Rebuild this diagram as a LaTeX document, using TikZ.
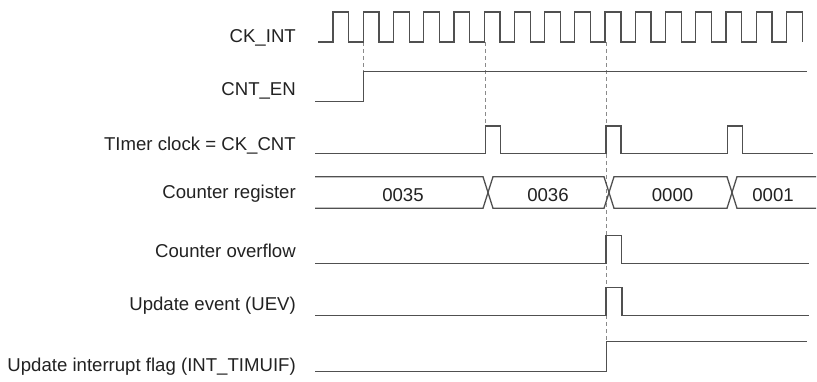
\documentclass[tikz,border=0pt]{standalone}
\usepackage{fontspec}
\setmainfont{Liberation Sans}
\definecolor{sigc}{HTML}{505050}
\definecolor{txtc}{HTML}{222222}
\definecolor{guidec}{HTML}{8A8A8A}
\begin{document}
\begin{tikzpicture}[x=1pt,y=-1pt,
  sig/.style={draw=sigc, line width=1.3pt, line join=miter},
  lbl/.style={anchor=base east, inner sep=0pt, text=txtc, font=\fontsize{18.6}{22}\selectfont},
  val/.style={anchor=base, inner sep=0pt, text=txtc, font=\fontsize{18.6}{22}\selectfont},
  guide/.style={draw=guidec, line width=1pt, dash pattern=on 4pt off 3pt}]
\fill[white] (0,0) rectangle (817,381);
\useasboundingbox (0,0) rectangle (817,381);

% labels
\node[lbl] (ckint) at (296,42) {CK\_INT};
\node[lbl] (cnten) at (296,95.8) {CNT\_EN};
\node[lbl] (tclk) at (296,150) {TImer clock = CK\_CNT};
\node[lbl] (creg) at (296,198.5) {Counter register};
\node[lbl] (covf) at (296,257.3) {Counter overflow};
\node[lbl] (uev) at (296,310) {Update event (UEV)};
\node[lbl] (uif) at (296,371.7) {Update interrupt flag (INT\_TIMUIF)};

% guide lines
\draw[guide] (363.5,42) -- (363.5,72);
\draw[guide] (485.5,42) -- (485.5,126);
\draw[guide] (606,42) -- (606,342);

% CK_INT
\draw[sig] (318,42) \foreach \k in {0,...,15} {
  -- ({333+30.23*\k},42) -- ({333+30.23*\k},12) -- ({348.8+30.23*\k},12) -- ({348.8+30.23*\k},42) };

% CNT_EN
\draw[sig] (315,101.7) -- (363.5,101.7) -- (363.5,71.7) -- (807,71.7);

% Timer clock
\draw[sig] (315,153.3) -- (485.5,153.3) -- (485.5,126) -- (500.5,126) -- (500.5,153.3)
  -- (606,153.3) -- (606,126) -- (621,126) -- (621,153.3)
  -- (727.5,153.3) -- (727.5,126) -- (742.3,126) -- (742.3,153.3) -- (813,153.3);

% Counter register bus
\draw[sig] (315,176.7) -- (483,176.7) -- (493,208.3) -- (604,208.3) -- (614,176.7) -- (727,176.7) -- (737,208.3) -- (816,208.3);
\draw[sig] (315,208.3) -- (483,208.3) -- (493,176.7) -- (604,176.7) -- (614,208.3) -- (727,208.3) -- (737,176.7) -- (816,176.7);
\node[val] (v35) at (403,201.5) {0035};
\node[val] (v36) at (548,201.5) {0036};
\node[val] (v00) at (672.5,201.5) {0000};
\node[val] (v01) at (773,201.5) {0001};

% Counter overflow
\draw[sig] (315,263.3) -- (606,263.3) -- (606,235.7) -- (621.7,235.7) -- (621.7,263.3) -- (809,263.3);
% Update event
\draw[sig] (315,315.7) -- (606,315.7) -- (606,287.7) -- (622,287.7) -- (622,315.7) -- (809,315.7);
% Interrupt flag
\draw[sig] (315,371.7) -- (606.5,371.7) -- (606.5,341.7) -- (807,341.7);
\end{tikzpicture}
\end{document}
